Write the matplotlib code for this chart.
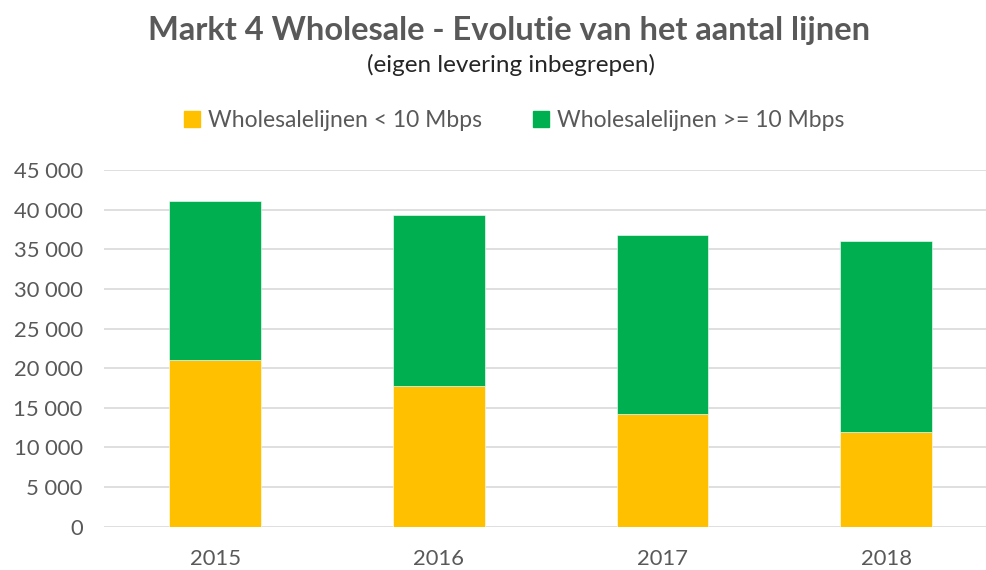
import matplotlib
matplotlib.use("Agg")
import matplotlib.pyplot as plt
from matplotlib.patches import Patch
from matplotlib.ticker import FuncFormatter, MultipleLocator

jaren = ["2015", "2016", "2017", "2018"]
lijnen_laag = [21000, 17700, 14200, 11900]   # < 10 Mbps
lijnen_hoog = [20100, 21600, 22600, 24100]   # >= 10 Mbps

GEEL = "#FFC000"
GROEN = "#00B050"
GRIJS = "#595959"
FONT = ["Lato", "DejaVu Sans"]

plt.rcParams["font.family"] = FONT

fig = plt.figure(figsize=(9.87, 5.70), dpi=100)
ax = fig.add_axes([0.1049, 0.076, 0.895, 0.6258])

x = range(len(jaren))
ax.bar(x, lijnen_laag, width=0.41, color=GEEL, edgecolor="white", linewidth=0.4, zorder=3)
ax.bar(x, lijnen_hoog, width=0.41, bottom=lijnen_laag, color=GROEN,
       edgecolor="white", linewidth=0.4, zorder=3)

ax.set_xlim(-0.5, 3.451)
ax.set_ylim(0, 45000)
ax.yaxis.set_major_locator(MultipleLocator(5000))
ax.yaxis.set_major_formatter(FuncFormatter(lambda v, _: f"{int(v):,}".replace(",", " ")))
ax.set_xticks(list(x))
ax.set_xticklabels(jaren)
ax.grid(axis="y", color="#D9D9D9", linewidth=1.2, zorder=0)
for s in ax.spines.values():
    s.set_visible(False)
ax.tick_params(length=0, labelsize=15.8, labelcolor=GRIJS)
ax.tick_params(axis="y", pad=15)
ax.tick_params(axis="x", pad=16)

fig.text(0.516, 0.947, "Markt 4 Wholesale - Evolutie van het aantal lijnen",
         ha="center", va="center", fontsize=23.5, fontweight="bold", color=GRIJS)
fig.text(0.518, 0.886, "(eigen levering inbegrepen)",
         ha="center", va="center", fontsize=17.5, color="#262626")

handles = [Patch(color=GEEL, label="Wholesalelijnen < 10 Mbps"),
           Patch(color=GROEN, label="Wholesalelijnen >= 10 Mbps")]
fig.legend(handles=handles, loc="center", bbox_to_anchor=(0.521, 0.789), ncol=2,
           frameon=False, fontsize=16.5, handlelength=0.7, handleheight=0.7,
           handletextpad=0.35, columnspacing=2.25, labelcolor=GRIJS)

fig.savefig("out.png", dpi=100, facecolor="white")
